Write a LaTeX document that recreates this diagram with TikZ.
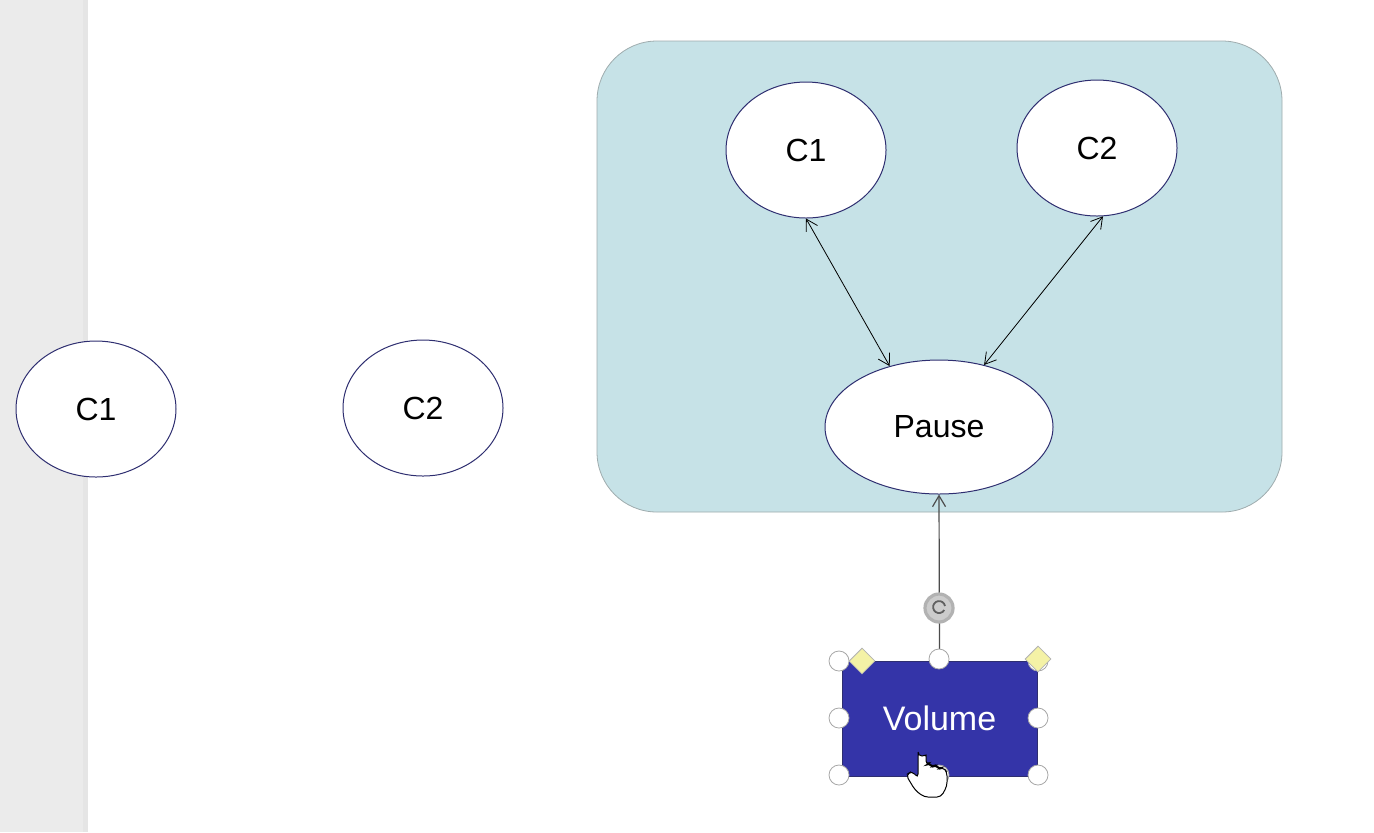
\documentclass[tikz,border=0pt]{standalone}
\usepackage{fontspec}
\setmainfont{Liberation Sans}
\usetikzlibrary{shapes.geometric,arrows.meta}
\definecolor{cteal}{HTML}{C6E2E7}
\definecolor{cnavy}{HTML}{2E2E70}
\definecolor{cvol}{HTML}{3434A8}
\definecolor{cside}{HTML}{EBEBEB}
\definecolor{cdiam}{HTML}{F4F2A6}

\begin{document}
\begin{tikzpicture}[x=0.5pt,y=-0.5pt,font=\fontsize{16}{18}\selectfont,>={Straight Barb[length=5.5pt,width=6.5pt]}]
  \tikzstyle{state}=[draw=cnavy,ellipse,fill=white,minimum width=80pt,minimum height=68pt,inner sep=0pt,line width=0.5pt]
  \tikzstyle{handle}=[circle,draw=gray!70,fill=white,minimum size=10pt,inner sep=0pt,line width=0.4pt]
  \tikzstyle{diam}=[diamond,draw=gray!60,fill=cdiam,minimum size=13pt,inner sep=0pt,line width=0.4pt]

  \useasboundingbox (0,0) rectangle (1374,832);
  \fill[white] (0,0) rectangle (1374,832);
  % sidebar
  \fill[cside] (0,0) rectangle (85,832);
  \fill[gray!20] (83,0) rectangle (88,832);

  % loose states
  \node[state] (lc1) at (96,409) {C1};
  \node[state] (lc2) at (423,408) {C2};

  % group
  \node[draw=gray!55!cteal,fill=cteal,rounded corners=30pt,minimum width=342.5pt,minimum height=235.5pt] (grp) at (939.5,276.5) {};
  \node[state] (c1) at (806,150) {C1};
  \node[state] (c2) at (1097,148) {C2};
  \node[state,minimum width=114pt,minimum height=67pt] (pause) at (939,427) {Pause};

  \draw[<->,thin] (c1.south) -- (pause.129);
  \draw[<->,thin] (c2.275) -- (pause.54);

  % selected shape
  \node[draw=cnavy,fill=cvol,text=white,font=\fontsize{17}{20}\selectfont,minimum width=97.5pt,minimum height=57.5pt] (vol) at (939.5,718.5) {Volume};
  \draw[->,gray!60!black,semithick] (vol.north) -- (pause.south);

  \node[circle,fill=gray!40,draw=gray!60,line width=1.6pt,minimum size=14pt,inner sep=0pt] (rot) at (939,608) {};
  \draw[gray!75!black,line width=0.9pt] (rot) ++(3pt,1pt) arc (10:330:3pt);

  \node[handle] (hnw) at (839,661) {};
  \node[handle] (hn) at (939,659) {};
  \node[handle] (hne) at (1038,661) {};
  \node[handle] (hw) at (839,718) {};
  \node[handle] (he) at (1038,718) {};
  \node[handle] (hsw) at (839,775) {};
  \node[handle] (hs) at (939,775) {};
  \node[handle] (hse) at (1038,775) {};
  \node[diam] (dw) at (862,661) {};
  \node[diam] (de) at (1038,659) {};

  % cursor
  \draw[fill=white,line width=0.5pt,rounded corners=2pt] (918,752) -- (918,778) -- (912,771) -- (906,775) -- (915,790) -- (924,797) -- (941,797) -- (947,786) -- (947,772) -- (943,767) -- (939,769) -- (936,765) -- (932,767) -- (929,763) -- (926,765) -- (926,752) arc (0:180:4);
\end{tikzpicture}
\end{document}
